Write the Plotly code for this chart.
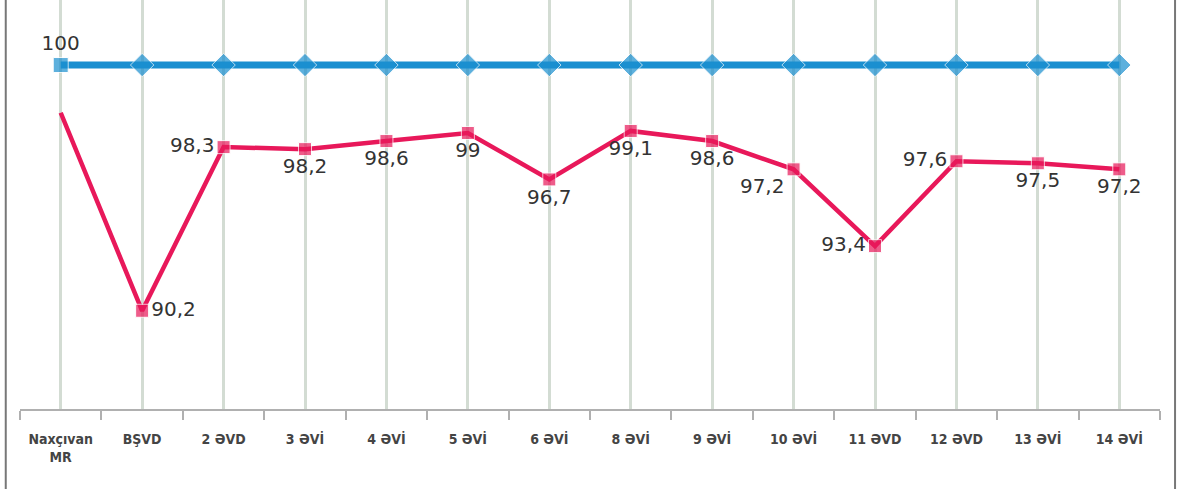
import plotly.graph_objects as go

categories = ["Naxçıvan<br>MR", "BŞVD", "2 ƏVD", "3 ƏVİ", "4 ƏVİ", "5 ƏVİ", "6 ƏVİ",
              "8 ƏVİ", "9 ƏVİ", "10 ƏVİ", "11 ƏVD", "12 ƏVD", "13 ƏVİ", "14 ƏVİ"]
region_values = [100] * 14
school_values = [100, 90.2, 98.3, 98.2, 98.6, 99, 96.7, 99.1, 98.6, 97.2, 93.4, 97.6, 97.5, 97.2]

x = list(range(len(categories)))
fmt = lambda v: (f"{v:g}").replace(".", ",")

red_pos = ["middle right", "middle right", "middle left", "bottom center", "bottom center",
           "bottom center", "bottom center", "bottom center", "bottom center", "bottom left",
           "middle left", "middle left", "bottom center", "bottom center"]
red_text = [""] + [fmt(v) for v in school_values[1:]]

fig = go.Figure()
fig.add_trace(go.Scatter(
    x=x, y=school_values, mode="lines+markers+text", yaxis="y",
    line=dict(color="#e8185a", width=4.5),
    marker=dict(symbol="square", size=[0] + [13] * 13, color="#e8185a"),
    text=red_text, textposition=red_pos,
    textfont=dict(family="DejaVu Sans", size=20, color="#333333"),
    cliponaxis=False, showlegend=False, hoverinfo="skip"))
fig.add_trace(go.Scatter(
    x=x, y=region_values, mode="lines+markers+text", yaxis="y2",
    line=dict(color="#1a8fd0", width=7),
    marker=dict(symbol=["square"] + ["diamond"] * 13, size=[15] + [18] * 13, color="#1a8fd0"),
    text=[fmt(region_values[0])] + [""] * 13, textposition="top center",
    textfont=dict(family="DejaVu Sans", size=20, color="#333333"),
    cliponaxis=False, showlegend=False, hoverinfo="skip"))

fig.update_layout(
    width=1202, height=489,
    margin=dict(l=20, r=42, t=0, b=80),
    paper_bgcolor="white", plot_bgcolor="white",
    xaxis=dict(range=[-0.5, 13.5], tickvals=x, ticktext=[f"<b>{c}</b>" for c in categories],
               ticks="", showgrid=True, gridcolor="#d3dcd3", gridwidth=2.5,
               showline=True, linecolor="#b0b0b0", linewidth=2, zeroline=False,
               ticklabelstandoff=16,
               tickfont=dict(family="DejaVu Sans Condensed, DejaVu Sans", size=14, color="#444444"),
               minor=dict(tick0=0.5, dtick=1, ticks="outside", ticklen=9, tickcolor="#b0b0b0",
                          tickwidth=2, showgrid=False)),
    yaxis=dict(range=[85.34, 105.58], visible=False, showgrid=False, zeroline=False),
    yaxis2=dict(range=[82.97, 103.22], overlaying="y", visible=False, showgrid=False, zeroline=False),
    shapes=[
        dict(type="line", xref="paper", yref="paper", x0=-0.0125, x1=-0.0125, y0=-0.2, y1=1,
             line=dict(color="#777777", width=2)),
        dict(type="line", xref="paper", yref="paper", x0=1.0132, x1=1.0132, y0=-0.2, y1=1,
             line=dict(color="#777777", width=2)),
    ],
)
fig.write_html("out.html", config={"displayModeBar": False},
               post_script="document.body.style.margin='0';")
